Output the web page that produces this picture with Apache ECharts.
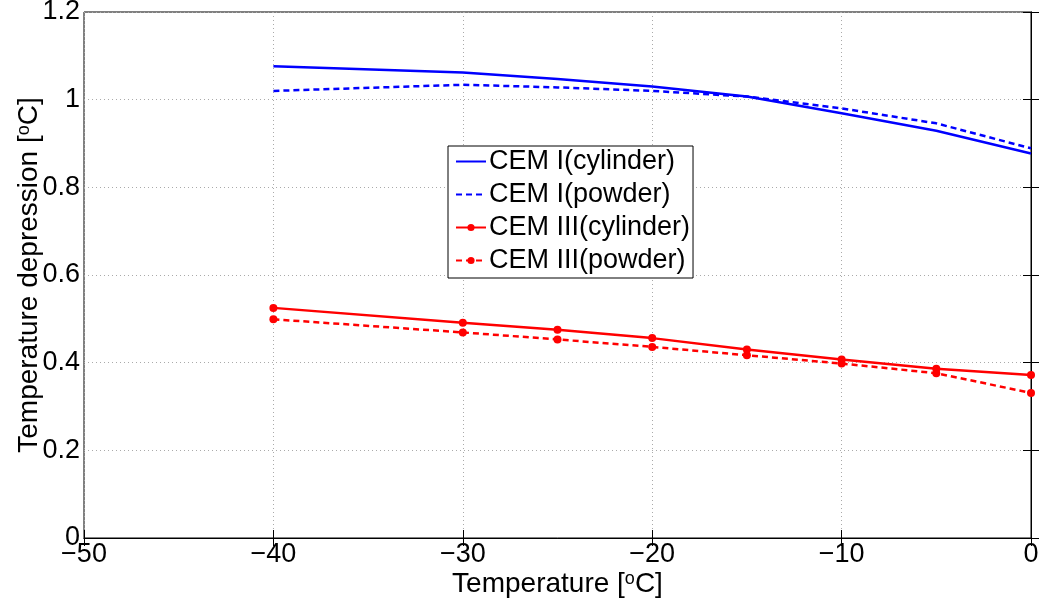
<!DOCTYPE html>
<html>
<head>
<meta charset="utf-8">
<script src="https://cdn.jsdelivr.net/npm/echarts@6/dist/echarts.min.js"></script>
<style>
  html, body { margin: 0; padding: 0; background: #fff; }
  #chart { width: 1039px; height: 608px; }
</style>
</head>
<body>
<div id="chart"></div>
<script>
// data
const temps = [-40, -30, -25, -20, -15, -10, -5, 0]
const cem1Cylinder = [1.076, 1.062, 1.047, 1.030, 1.007, 0.969, 0.929, 0.877]
const cem1Powder = [1.020, 1.034, 1.028, 1.020, 1.007, 0.980, 0.946, 0.889]
const cem3Cylinder = [0.525, 0.491, 0.475, 0.456, 0.430, 0.407, 0.386, 0.372]
const cem3Powder = [0.499, 0.469, 0.453, 0.436, 0.417, 0.398, 0.376, 0.331]
const seriesNames = ['CEM I(cylinder)', 'CEM I(powder)', 'CEM III(cylinder)', 'CEM III(powder)']

const font = 'Liberation Sans, Arial, sans-serif'
const pairs = (ys) => temps.map((t, i) => [t, ys[i]])
const minus = (v) => String(v).replace('-', '\u2212')

const chart = echarts.init(document.getElementById('chart'))

function lineSeries(name, ys, color, dashed, dots) {
  return {
    name: name,
    type: 'line',
    data: pairs(ys),
    symbol: dots ? 'circle' : 'none',
    symbolSize: 8,
    itemStyle: { color: color },
    lineStyle: { color: color, width: 2.5, type: dashed ? [6, 4] : 'solid' },
    animation: false
  }
}

const supStyle = { fontFamily: font, fontSize: 18, color: '#000', verticalAlign: 'top', padding: [0, 0, 10, 0] }

const option = {
  backgroundColor: '#fff',
  grid: {
    left: 84,
    right: 8,
    top: 12,
    bottom: 70,
    outerBoundsMode: 'none',
    show: true,
    borderColor: '#000',
    borderWidth: 1
  },
  legend: {
    orient: 'vertical',
    left: 448,
    top: 146,
    padding: [2, 3, 4, 7],
    itemGap: 6,
    itemWidth: 30,
    itemHeight: 9,
    backgroundColor: '#fff',
    borderColor: '#000',
    borderWidth: 1,
    borderRadius: 0,
    textStyle: { fontFamily: font, fontSize: 27, color: '#000', padding: [0, 0, 0, -2] },
    // blue entries are plain lines: hide the marker in their icons
    data: [
      { name: seriesNames[0], itemStyle: { opacity: 0 } },
      { name: seriesNames[1], itemStyle: { opacity: 0 } },
      seriesNames[2],
      seriesNames[3]
    ]
  },
  xAxis: [
    {
      type: 'value',
      min: -50,
      max: 0,
      interval: 10,
      name: 'Temperature [{sup|o}C]',
      nameLocation: 'middle',
      nameGap: 32,
      nameMoveOverlap: false,
      nameTextStyle: { fontFamily: font, fontSize: 28, color: '#000', rich: { sup: supStyle } },
      axisLine: { show: true, lineStyle: { color: '#000' } },
      axisTick: { show: true, inside: true, length: 8, lineStyle: { color: '#000' } },
      axisLabel: { fontFamily: font, fontSize: 27, color: '#000', margin: 3, formatter: minus },
      splitLine: { show: true, lineStyle: { color: '#aaa', type: [1, 3] } }
    },
    {
      type: 'value',
      position: 'top',
      min: -50,
      max: 0,
      interval: 10,
      axisLine: { show: true, lineStyle: { color: '#000' } },
      axisTick: { show: true, inside: true, length: 8, lineStyle: { color: '#000' } },
      axisLabel: { show: false },
      splitLine: { show: false }
    }
  ],
  yAxis: [
    {
      type: 'value',
      min: 0,
      max: 1.2,
      interval: 0.2,
      name: 'Temperature depression [{sup|o}C]',
      nameLocation: 'middle',
      nameGap: 41,
      nameMoveOverlap: false,
      nameTextStyle: { fontFamily: font, fontSize: 28, color: '#000', rich: { sup: supStyle } },
      axisLine: { show: true, lineStyle: { color: '#000' } },
      axisTick: { show: true, inside: true, length: 8, lineStyle: { color: '#000' } },
      axisLabel: {
        fontFamily: font, fontSize: 27, color: '#000', margin: 4,
        formatter: (v) => String(Math.round(v * 10) / 10)
      },
      splitLine: { show: true, lineStyle: { color: '#aaa', type: [1, 3] } }
    },
    {
      type: 'value',
      position: 'right',
      min: 0,
      max: 1.2,
      interval: 0.2,
      axisLine: { show: true, lineStyle: { color: '#000' } },
      axisTick: { show: true, inside: true, length: 8, lineStyle: { color: '#000' } },
      axisLabel: { show: false },
      splitLine: { show: false }
    }
  ],
  series: [
    lineSeries(seriesNames[0], cem1Cylinder, '#0000ff', false, false),
    lineSeries(seriesNames[1], cem1Powder, '#0000ff', true, false),
    lineSeries(seriesNames[2], cem3Cylinder, '#ff0000', false, true),
    lineSeries(seriesNames[3], cem3Powder, '#ff0000', true, true)
  ]
}

chart.setOption(option)
</script>
</body>
</html>
